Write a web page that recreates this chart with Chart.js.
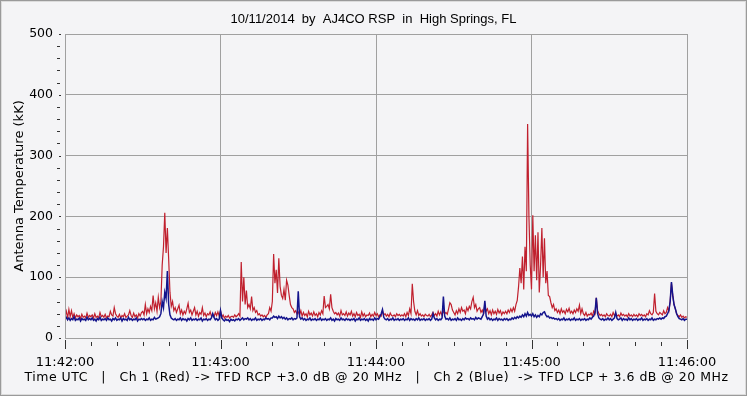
<!DOCTYPE html>
<html>
<head>
<meta charset="utf-8">
<script src="https://cdn.jsdelivr.net/npm/chart.js@4/dist/chart.umd.min.js"></script>
<style>
  html, body { margin: 0; padding: 0; background: #f4f4f6; }
  canvas { display: block; }
</style>
</head>
<body>
<canvas id="chart" width="747" height="396"></canvas>
<script>
// seconds after 11:42:00, one sample every half second
const startSec = 0;
const stepSec = 0.5;

// Ch 1 (Red), kK, 20 samples per 10 s block
const redValues = [
  36,44,33,47,35,45,34,40,33,38,35,37,32,39,34,36,33,41,34,37,
  35,38,33,40,34,36,33,42,35,37,34,39,33,36,35,44,38,36,50,40,
  36,34,39,33,37,35,40,34,36,38,45,37,34,41,35,38,33,40,36,42,
  44,38,55,40,48,42,52,45,70,48,58,44,67,50,60,120,150,206,140,181,
  130,75,52,60,45,50,42,48,54,40,46,38,44,40,48,57,42,46,38,44,
  50,38,44,36,42,39,50,37,41,35,40,38,43,36,39,35,42,37,43,36,
  45,34,38,33,36,34,37,33,35,36,34,38,35,37,40,36,125,60,100,55,
  78,50,55,48,68,45,50,42,45,38,40,36,38,35,37,34,38,40,50,44,
  60,138,90,112,74,131,85,70,65,80,62,95,87,70,55,50,48,42,45,40,
  43,38,45,36,42,37,40,35,44,38,41,36,43,37,40,35,42,38,45,40,
  69,50,52,55,48,72,50,44,40,42,38,41,36,45,38,40,37,43,36,41,
  38,44,36,40,35,42,37,39,34,43,36,40,35,38,37,41,35,39,36,42,
  37,40,35,38,36,45,38,40,36,39,35,41,37,36,38,35,40,37,39,36,
  38,36,40,35,42,37,48,40,89,60,44,38,45,37,40,36,38,35,39,37,
  36,39,35,38,42,37,40,36,44,38,43,37,45,40,42,39,48,58,55,46,
  42,38,45,40,48,42,50,44,46,40,50,45,52,48,60,67,50,55,44,48,
  50,42,46,40,55,44,48,40,45,38,46,40,44,39,47,41,45,38,43,40,
  44,40,46,42,48,43,50,44,55,62,84,115,90,134,80,150,110,352,202,120,
  80,202,110,169,95,174,75,120,181,100,164,90,110,70,68,58,50,55,45,48,
  42,46,40,48,42,45,40,47,43,49,41,44,40,46,42,48,44,54,40,48,
  40,37,42,36,39,38,41,36,44,40,66,45,40,37,39,36,38,35,40,37,
  36,39,35,42,37,40,36,38,35,41,37,39,36,38,35,40,36,38,35,39,
  36,38,35,40,37,39,36,38,35,40,38,45,40,38,42,73,44,40,38,42,
  40,38,45,40,42,50,44,60,90,70,55,48,40,37,35,38,34,36,33,35,
  34
];

// Ch 2 (Blue), kK
const blueValues = [
  31,34,30,33,29,32,30,35,29,31,30,33,28,32,30,31,29,34,30,32,
  30,33,29,31,28,32,30,34,29,31,30,32,29,33,30,31,28,32,30,33,
  29,31,30,33,28,32,30,31,29,34,30,32,29,31,30,33,28,31,30,32,
  30,32,29,31,30,33,29,31,30,34,31,32,33,35,40,60,50,75,65,110,
  55,38,33,31,30,32,29,31,30,33,29,32,30,31,28,32,30,33,29,31,
  30,32,29,31,30,33,28,31,30,32,29,31,30,33,40,34,30,32,29,31,
  45,33,30,28,31,29,30,27,31,29,30,28,31,30,32,29,31,33,30,32,
  31,33,30,32,29,31,30,33,29,31,30,32,29,31,30,33,31,32,30,33,
  33,36,34,35,32,36,33,35,32,34,31,33,30,32,31,33,30,32,31,33,
  77,35,31,33,30,32,29,31,30,33,29,31,30,32,29,31,30,33,29,31,
  30,32,29,31,30,33,29,31,28,32,30,31,29,33,30,31,29,32,30,31,
  29,31,30,32,28,31,30,33,29,31,30,32,29,31,28,32,30,31,29,33,
  30,32,31,35,40,47,34,31,30,32,29,31,30,33,29,31,30,32,29,31,
  30,32,29,31,30,33,29,32,30,31,29,32,30,33,29,31,30,32,29,31,
  30,32,29,31,40,33,30,32,29,31,30,33,68,36,31,32,30,33,29,31,
  30,32,29,33,30,31,29,32,30,33,31,32,30,33,31,32,30,34,31,33,
  32,31,35,40,61,36,31,33,30,32,29,31,30,33,29,32,30,31,29,32,
  30,32,29,31,30,33,31,34,32,35,33,36,34,38,35,40,36,42,37,39,
  36,40,35,38,34,37,35,40,38,42,43,38,35,36,33,34,32,33,31,32,
  30,32,29,31,30,33,29,31,30,32,29,31,30,33,29,31,30,32,29,31,
  30,32,29,31,30,33,31,34,36,42,66,40,33,31,30,32,29,31,30,33,
  30,32,29,31,33,42,32,30,31,33,29,32,30,31,29,33,30,32,29,31,
  30,32,29,31,30,33,29,31,30,32,29,31,30,33,29,31,30,32,31,33,
  31,33,32,35,36,40,45,60,92,70,55,48,40,35,32,31,30,32,29,31,
  31
];

const xTickLabels = ['11:42:00', '11:43:00', '11:44:00', '11:45:00', '11:46:00'];
const yMax = 500;
const titleText = '10/11/2014  by  AJ4CO RSP  in  High Springs, FL';
const footerText = 'Time UTC   |   Ch 1 (Red) -> TFD RCP +3.0 dB @ 20 MHz   |   Ch 2 (Blue)  -> TFD LCP + 3.6 dB @ 20 MHz';

const gridGray = '#a0a0a0';

function toPoints(values) {
  return values.map((v, i) => ({ x: startSec + i * stepSec, y: v }));
}

// background, title/footer text, plot border and the little tick marks outside the plot
const framePlugin = {
  id: 'frame',
  beforeDraw(chart) {
    const ctx = chart.ctx;
    ctx.save();
    ctx.fillStyle = '#f4f4f6';
    ctx.fillRect(0, 0, chart.width, chart.height);
    ctx.fillStyle = '#000';
    ctx.textAlign = 'center';
    ctx.textBaseline = 'middle';
    ctx.font = '13px "Liberation Sans"';
    ctx.fillText(titleText, chart.width / 2, 19);
    ctx.font = '12.5px "DejaVu Sans"';
    ctx.letterSpacing = '0.5px';
    ctx.fillText(footerText, chart.width / 2 + 3, 378);
    ctx.letterSpacing = '0px';
    ctx.restore();
  },
  afterDraw(chart) {
    const ctx = chart.ctx;
    const a = chart.chartArea;
    const xs = chart.scales.x;
    const ys = chart.scales.y;
    ctx.save();
    ctx.lineWidth = 1;
    ctx.strokeStyle = gridGray;
    ctx.strokeRect(Math.round(a.left) + 0.5, Math.round(a.top) + 0.5,
      Math.round(a.right - a.left), Math.round(a.bottom - a.top));

    ctx.strokeStyle = '#333';
    ctx.beginPath();
    for (let s = 0; s <= 240; s += 10) {
      const px = Math.round(xs.getPixelForValue(s)) + 0.5;
      const major = s % 60 === 0;
      const y0 = Math.round(a.bottom) + (major ? 2 : 4);
      ctx.moveTo(px, y0);
      ctx.lineTo(px, y0 + (major ? 9 : 4));
    }
    for (let v = 0; v <= yMax; v += 20) {
      const py = Math.round(ys.getPixelForValue(v)) + 0.5;
      if (v % 100 === 0) {
        ctx.moveTo(a.left - 6, py);
        ctx.lineTo(a.left - 4, py);
      } else {
        ctx.moveTo(a.left - 8, py);
        ctx.lineTo(a.left - 5, py);
      }
    }
    ctx.stroke();

    ctx.strokeStyle = '#9a9a9a';
    ctx.strokeRect(0.5, 0.5, chart.width - 1, chart.height - 1);
    ctx.strokeStyle = '#dcdcdc';
    ctx.strokeRect(1.5, 1.5, chart.width - 3, chart.height - 3);
    ctx.restore();
  }
};

const ctx = document.getElementById('chart');

new Chart(ctx, {
  type: 'line',
  data: {
    datasets: [
      {
        label: 'Ch 2 (Blue)',
        data: toPoints(blueValues),
        borderColor: '#14148c',
        borderWidth: 1.5,
        pointRadius: 0,
        tension: 0,
        order: 0
      },
      {
        label: 'Ch 1 (Red)',
        data: toPoints(redValues),
        borderColor: '#c0202e',
        borderWidth: 1.2,
        pointRadius: 0,
        tension: 0,
        order: 1
      }
    ]
  },
  options: {
    responsive: false,
    animation: false,
    layout: { padding: { left: 0, right: 60, top: 34, bottom: 0 } },
    plugins: {
      legend: { display: false },
      tooltip: { enabled: false },
      title: { display: false }
    },
    scales: {
      x: {
        type: 'linear',
        min: 0,
        max: 240,
        afterFit(scale) { scale.height = 58; },
        afterBuildTicks(scale) {
          scale.ticks = [];
          for (let s = 0; s <= 240; s += 60) scale.ticks.push({ value: s });
        },
        ticks: {
          autoSkip: false,
          maxRotation: 0,
          padding: 17,
          color: '#000',
          font: { family: 'DejaVu Sans', size: 13 },
          callback: (v) => xTickLabels[v / 60]
        },
        grid: {
          drawTicks: false,
          color: gridGray,
          lineWidth: 1
        },
        border: { display: false }
      },
      y: {
        min: 0,
        max: yMax,
        afterFit(scale) { scale.width = 65; },
        ticks: {
          stepSize: 100,
          padding: 12,
          color: '#000',
          font: { family: 'DejaVu Sans', size: 12.5 }
        },
        grid: {
          drawTicks: false,
          color: gridGray,
          lineWidth: 1
        },
        border: { display: false },
        title: {
          display: true,
          text: 'Antenna Temperature (kK)',
          color: '#000',
          font: { family: 'DejaVu Sans', size: 13 },
          padding: { top: 12, bottom: 0 }
        }
      }
    }
  },
  plugins: [framePlugin]
});
</script>
</body>
</html>
